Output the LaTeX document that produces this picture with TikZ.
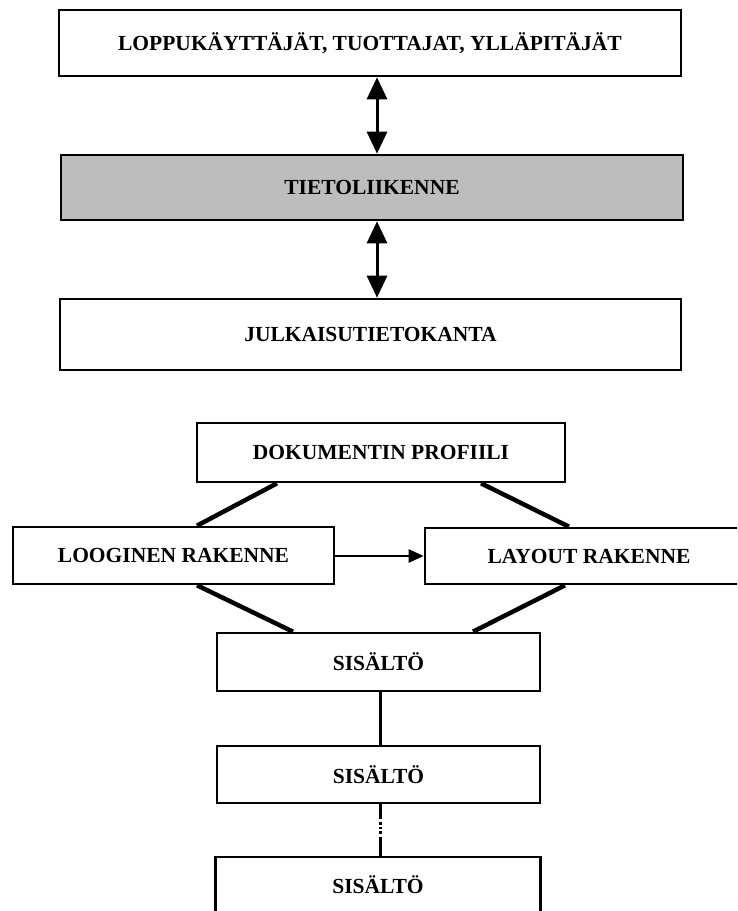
\documentclass[tikz,border=0pt]{standalone}
\usepackage{fontspec}
\setmainfont{Liberation Serif}
\usetikzlibrary{arrows.meta}

\tikzset{
  box/.style={draw=black, line width=2.6pt, inner sep=0pt,
    font=\fontsize{21.5}{24}\selectfont\bfseries},
  shaded/.style={box, fill=black!26},
  bigarrow/.style={line width=3pt,
    {Triangle[length=22pt,width=20pt]}-{Triangle[length=22pt,width=20pt]}},
  smallarrow/.style={line width=2.5pt, -{Triangle[length=15pt,width=13pt]}},
  leg/.style={line width=4.5pt},
  link/.style={line width=3pt},
  dotlink/.style={line width=3pt,
    dash pattern=on 15pt off 3pt on 2.5pt off 2pt on 2.5pt off 2pt on 2.5pt off 3pt on 30pt}
}

\begin{document}
\begin{tikzpicture}[x=1pt, y=-1pt]
  \path[use as bounding box] (0,0) rectangle (737,911);
  \clip (0,0) rectangle (737,911);

  % upper stack: users, data traffic, publication database
  \node[box, minimum width=622pt, minimum height=66pt] (users) at (370,43)
    {LOPPUKÄYTTÄJÄT, TUOTTAJAT, YLLÄPITÄJÄT};
  \node[shaded, minimum width=622pt, minimum height=65pt] (traffic) at (372,187.5)
    {TIETOLIIKENNE};
  \node[box, minimum width=621pt, minimum height=71pt] (db) at (370.5,334.5)
    {JULKAISUTIETOKANTA};

  \coordinate (ax) at (377,0);
  \draw[bigarrow] (users.south -| ax) -- (traffic.north -| ax);
  \draw[bigarrow] (traffic.south -| ax) -- (db.north -| ax);

  % document structure
  \node[box, minimum width=368pt, minimum height=59pt] (profile) at (381,452.5)
    {DOKUMENTIN PROFIILI};
  \node[box, minimum width=321pt, minimum height=57pt] (logical) at (173.5,555.5)
    {LOOGINEN RAKENNE};
  \node[box, minimum width=328pt, minimum height=56pt] (layout) at (589,556)
    {LAYOUT RAKENNE};
  \node[box, minimum width=323pt, minimum height=58pt] (c1) at (378.5,662)
    {SISÄLTÖ};
  \node[box, minimum width=323pt, minimum height=57pt] (c2) at (378.5,774.5)
    {SISÄLTÖ};
  \node[box, minimum width=325pt, minimum height=56pt] (c3) at (378,885)
    {SISÄLTÖ};

  % attachment points of the slanted legs
  \coordinate (pl) at (277,0);
  \coordinate (pr) at (481,0);
  \coordinate (lt) at (197,0);
  \coordinate (rt) at (569,0);
  \coordinate (lb) at (197,0);
  \coordinate (rb) at (565,0);
  \coordinate (cl) at (293,0);
  \coordinate (cr) at (473,0);
  \coordinate (cx) at (380,0);
  \coordinate (ay) at (0,556);

  \draw[leg] (profile.south -| pl) -- (logical.north -| lt);
  \draw[leg] (profile.south -| pr) -- (layout.north -| rt);
  \draw[leg] (logical.south -| lb) -- (c1.north -| cl);
  \draw[leg] (layout.south -| rb) -- (c1.north -| cr);

  \draw[smallarrow] (logical.east |- ay) -- (layout.west |- ay);

  \draw[link] (c1.south -| cx) -- (c2.north -| cx);
  \draw[dotlink] (c2.south -| cx) -- (c3.north -| cx);
\end{tikzpicture}
\end{document}
